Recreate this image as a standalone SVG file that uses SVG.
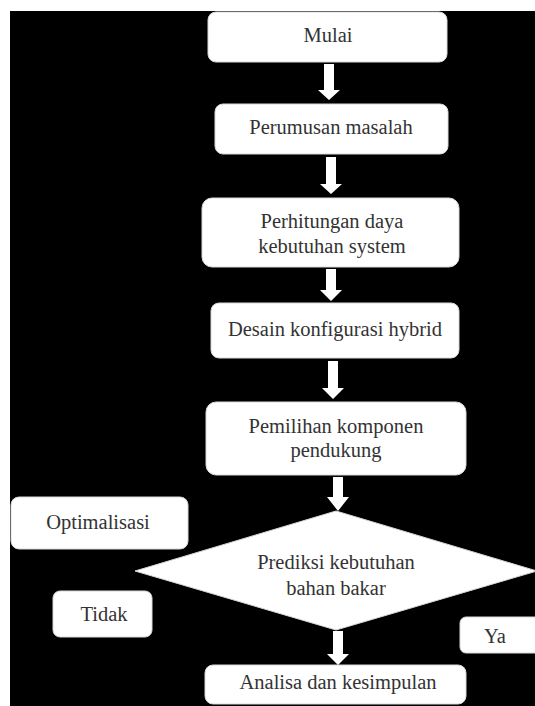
<svg xmlns="http://www.w3.org/2000/svg" width="535" height="706" viewBox="0 0 535 706">
  <style>
    .box { fill: #ffffff; stroke: #d8d8d8; stroke-width: 1; }
    .lbl { font-family: "Liberation Serif", "Times New Roman", serif; font-size: 20.5px; fill: #333333; text-anchor: middle; }
    .arr { fill: #ffffff; stroke: none; }
  </style>
  <rect x="0" y="0" width="535" height="706" fill="#ffffff"/>
  <rect x="10" y="11" width="525" height="695" fill="#000000"/>

  <g id="connectors">
    <polygon class="arr" points="324,64 334,64 334,90 340,90 329,100 318,90 324,90"/>
    <polygon class="arr" points="326,157 336,157 336,184 342,184 331,194 320,184 326,184"/>
    <polygon class="arr" points="326,269 336,269 336,290 342,290 331,301 320,290 326,290"/>
    <polygon class="arr" points="328,361 338,361 338,388 344,388 333,399 322,388 328,388"/>
    <polygon class="arr" points="333,477 343,477 343,497 349,497 338,511 327,497 333,497"/>
    <polygon class="arr" points="333,631 343,631 343,654 349,654 338,665 327,654 333,654"/>
  </g>

  <g id="mulai">
    <rect class="box" x="208" y="12" width="239" height="50" rx="8"/>
    <text class="lbl" x="328" y="42">Mulai</text>
  </g>
  <g id="perumusan">
    <rect class="box" x="215" y="104" width="233" height="50" rx="8"/>
    <text class="lbl" x="331" y="134">Perumusan masalah</text>
  </g>
  <g id="perhitungan">
    <rect class="box" x="202" y="198" width="257" height="69" rx="10"/>
    <text class="lbl" x="332" y="228">Perhitungan daya</text>
    <text class="lbl" x="332" y="253">kebutuhan system</text>
  </g>
  <g id="desain">
    <rect class="box" x="211" y="303" width="248" height="55" rx="8"/>
    <text class="lbl" x="335" y="336">Desain konfigurasi hybrid</text>
  </g>
  <g id="pemilihan">
    <rect class="box" x="206" y="402" width="260" height="73" rx="10"/>
    <text class="lbl" x="336" y="433">Pemilihan komponen</text>
    <text class="lbl" x="336" y="457">pendukung</text>
  </g>
  <g id="optimalisasi">
    <rect class="box" x="11" y="497" width="177" height="52" rx="8"/>
    <text class="lbl" x="98" y="529">Optimalisasi</text>
  </g>
  <g id="prediksi">
    <polygon class="box" points="336,511 537,571 336,630 135,571"/>
    <text class="lbl" x="336" y="569">Prediksi kebutuhan</text>
    <text class="lbl" x="336" y="595">bahan bakar</text>
  </g>
  <g id="tidak">
    <rect class="box" x="53" y="591" width="99" height="46" rx="7"/>
    <text class="lbl" x="104" y="621">Tidak</text>
  </g>
  <g id="ya">
    <rect class="box" x="460" y="617" width="85" height="36" rx="6"/>
    <text class="lbl" x="495" y="643">Ya</text>
  </g>
  <g id="analisa">
    <rect class="box" x="205" y="665" width="261" height="39" rx="8"/>
    <text class="lbl" x="338" y="689">Analisa dan kesimpulan</text>
  </g>
</svg>
